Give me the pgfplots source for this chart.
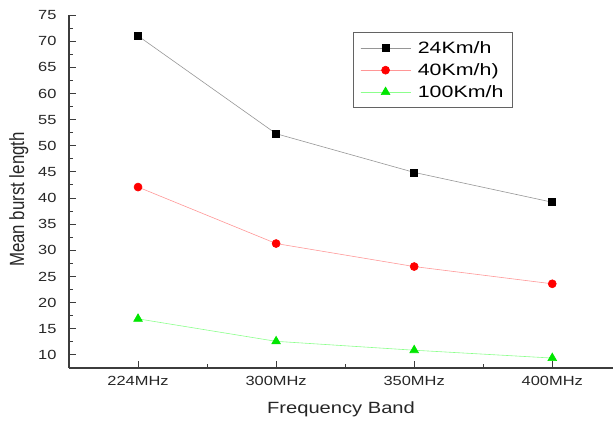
\documentclass[border=0pt]{standalone}
\usepackage{fontspec}
\setmainfont{Liberation Sans}
\usepackage{graphicx}
\usepackage{pgfplots}
\pgfplotsset{compat=1.18}
\definecolor{lgray}{RGB}{150,150,150}
\definecolor{lred}{RGB}{255,150,150}
\definecolor{lgreen}{RGB}{140,255,140}
\definecolor{mgreen}{RGB}{0,230,0}
\definecolor{axc}{RGB}{60,60,60}
\newcommand\sx[1]{\scalebox{1.24}[1]{#1}}
\newcommand\lx[1]{\scalebox{1.3}[1]{#1}}
\begin{document}
\begin{tikzpicture}
\begin{axis}[
  scale only axis,
  width=544bp, height=353bp,
  xmin=-0.5, xmax=3.44,
  ymin=7.5, ymax=75,
  axis x line*=bottom, axis y line*=left,
  axis line style={axc, line width=1.6pt},
  tick align=inside,
  major tick length=7bp, minor tick length=4bp,
  tick style={axc, line width=1pt},
  xtick={0,1,2,3},
  xticklabels={\sx{224MHz},\sx{300MHz},\sx{350MHz},\sx{400MHz}},
  minor xtick={0.5,1.5,2.5},
  ytick={10,15,...,75},
  minor ytick={12.5,17.5,...,72.5},
  yticklabel={\sx{\pgfmathprintnumber{\tick}}},
  /pgf/number format/assume math mode=true,
  tick label style={font=\fontsize{13.3}{15}\selectfont, text=black!85},
  xticklabel style={yshift=-5bp},
  yticklabel style={xshift=-9bp},
  xlabel={\sx{Frequency Band}},
  ylabel={\scalebox{1}[1.22]{Mean burst length}},
  label style={font=\fontsize{16.3}{19}\selectfont, text=black!85},
  xlabel style={yshift=-9bp},
  ylabel style={font=\fontsize{16.9}{19}\selectfont, yshift=3bp, xshift=-8bp},
  legend style={at={(0.522,0.951)}, anchor=north west, draw=axc!80, line width=0.6pt,
    font=\fontsize{16.5}{19}\selectfont, row sep=4.5bp, inner xsep=7bp, inner ysep=7bp,
    /tikz/every odd column/.append style={column sep=5bp}},
  legend cell align=left,
  legend image code/.code={\draw[#1] (0bp,0bp) -- (50bp,0bp); \draw[#1, mark repeat=2, mark phase=2] plot coordinates {(0bp,0bp) (25bp,0bp) (50bp,0bp)};},
  clip=false,
]
\addplot[lgray, line width=0.6pt, mark=square*, mark size=3.5bp, mark options={black, solid}]
  coordinates {(0,71.0) (1,52.3) (2,44.9) (3,39.2)};
\addlegendentry{\lx{24Km/h}}
\addplot[lred, line width=0.6pt, mark=*, mark size=4bp, mark options={red, solid}]
  coordinates {(0,42.1) (1,31.3) (2,26.9) (3,23.6)};
\addlegendentry{\lx{40Km/h)}}
\addplot[lgreen, line width=0.6pt, mark=triangle*, mark size=5bp, mark options={mgreen, solid}]
  coordinates {(0,16.9) (1,12.6) (2,10.9) (3,9.4)};
\addlegendentry{\lx{100Km/h}}
\end{axis}
\pgfresetboundingbox
\useasboundingbox ([shift={(-69bp,-56bp)}]current axis.south west) rectangle ([shift={(0bp,15bp)}]current axis.north east);
\end{tikzpicture}
\end{document}
